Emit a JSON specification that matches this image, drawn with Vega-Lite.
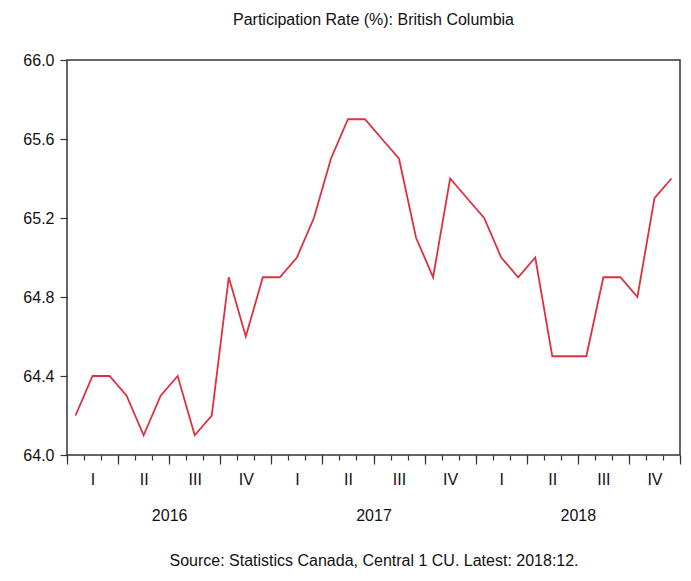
{
  "$schema": "https://vega.github.io/schema/vega-lite/v6.json",
  "width": 613,
  "height": 395,
  "padding": {"left": 22, "top": 12, "right": 5, "bottom": 5},
  "background": "white",
  "title": {
    "text": "Participation Rate (%): British Columbia",
    "font": "Liberation Sans",
    "fontSize": 16,
    "fontWeight": "normal",
    "color": "#111",
    "offset": 24
  },
  "data": {
    "values": [
      {"period": "2016:01", "index": 1, "rate": 64.2},
      {"period": "2016:02", "index": 2, "rate": 64.4},
      {"period": "2016:03", "index": 3, "rate": 64.4},
      {"period": "2016:04", "index": 4, "rate": 64.3},
      {"period": "2016:05", "index": 5, "rate": 64.1},
      {"period": "2016:06", "index": 6, "rate": 64.3},
      {"period": "2016:07", "index": 7, "rate": 64.4},
      {"period": "2016:08", "index": 8, "rate": 64.1},
      {"period": "2016:09", "index": 9, "rate": 64.2},
      {"period": "2016:10", "index": 10, "rate": 64.9},
      {"period": "2016:11", "index": 11, "rate": 64.6},
      {"period": "2016:12", "index": 12, "rate": 64.9},
      {"period": "2017:01", "index": 13, "rate": 64.9},
      {"period": "2017:02", "index": 14, "rate": 65.0},
      {"period": "2017:03", "index": 15, "rate": 65.2},
      {"period": "2017:04", "index": 16, "rate": 65.5},
      {"period": "2017:05", "index": 17, "rate": 65.7},
      {"period": "2017:06", "index": 18, "rate": 65.7},
      {"period": "2017:07", "index": 19, "rate": 65.6},
      {"period": "2017:08", "index": 20, "rate": 65.5},
      {"period": "2017:09", "index": 21, "rate": 65.1},
      {"period": "2017:10", "index": 22, "rate": 64.9},
      {"period": "2017:11", "index": 23, "rate": 65.4},
      {"period": "2017:12", "index": 24, "rate": 65.3},
      {"period": "2018:01", "index": 25, "rate": 65.2},
      {"period": "2018:02", "index": 26, "rate": 65.0},
      {"period": "2018:03", "index": 27, "rate": 64.9},
      {"period": "2018:04", "index": 28, "rate": 65.0},
      {"period": "2018:05", "index": 29, "rate": 64.5},
      {"period": "2018:06", "index": 30, "rate": 64.5},
      {"period": "2018:07", "index": 31, "rate": 64.5},
      {"period": "2018:08", "index": 32, "rate": 64.9},
      {"period": "2018:09", "index": 33, "rate": 64.9},
      {"period": "2018:10", "index": 34, "rate": 64.8},
      {"period": "2018:11", "index": 35, "rate": 65.3},
      {"period": "2018:12", "index": 36, "rate": 65.4}
    ]
  },
  "layer": [
    {
      "mark": {"type": "line", "color": "#e0303f", "strokeWidth": 1.8},
      "encoding": {
        "x": {
          "field": "index",
          "type": "quantitative",
          "scale": {"domain": [0.5, 36.5], "nice": false, "zero": false},
          "axis": {
            "orient": "bottom",
            "values": [0.5,1.5,2.5,3.5,4.5,5.5,6.5,7.5,8.5,9.5,10.5,11.5,12.5,13.5,14.5,15.5,16.5,17.5,18.5,19.5,20.5,21.5,22.5,23.5,24.5,25.5,26.5,27.5,28.5,29.5,30.5,31.5,32.5,33.5,34.5,35.5,36.5],
            "labels": false,
            "tickSize": 5,
            "domain": false,
            "grid": false,
            "title": null
          }
        },
        "y": {
          "field": "rate",
          "type": "quantitative",
          "scale": {"domain": [64, 66], "nice": false, "zero": false},
          "axis": {
            "values": [64.0, 64.4, 64.8, 65.2, 65.6, 66.0],
            "format": ".1f",
            "tickSize": 7,
            "labelPadding": 6,
            "domain": false,
            "grid": false,
            "title": null
          }
        }
      }
    },
    {
      "mark": {"type": "point", "opacity": 0},
      "encoding": {
        "x": {
          "field": "index",
          "type": "quantitative",
          "axis": {
            "orient": "bottom",
            "values": [0.5,3.5,6.5,9.5,12.5,15.5,18.5,21.5,24.5,27.5,30.5,33.5,36.5],
            "labels": false,
            "tickSize": 9,
            "domain": false,
            "grid": false,
            "title": null
          }
        }
      }
    },
    {
      "mark": {"type": "point", "opacity": 0},
      "encoding": {
        "x": {
          "field": "index",
          "type": "quantitative",
          "axis": {
            "orient": "bottom",
            "values": [2,5,8,11,14,17,20,23,26,29,32,35],
            "labelExpr": "['I','II','III','IV'][floor((datum.value - 0.5) / 3) % 4]",
            "ticks": false,
            "tickSize": 0,
            "labelPadding": 16,
            "domain": false,
            "grid": false,
            "title": null
          }
        }
      }
    },
    {
      "mark": {"type": "point", "opacity": 0},
      "encoding": {
        "x": {
          "field": "index",
          "type": "quantitative",
          "axis": {
            "orient": "bottom",
            "values": [6.5, 18.5, 30.5],
            "labelExpr": "'' + (2016 + floor(datum.value / 12))",
            "ticks": false,
            "tickSize": 0,
            "labelPadding": 52,
            "domain": false,
            "grid": false,
            "title": "Source: Statistics Canada, Central 1 CU. Latest: 2018:12.",
            "titlePadding": 29,
            "titleFontWeight": "normal",
            "titleFontSize": 16,
            "titleFont": "Liberation Sans",
            "titleColor": "#111"
          }
        }
      }
    }
  ],
  "resolve": {"axis": {"x": "independent"}},
  "config": {
    "view": {"stroke": "#333", "strokeWidth": 1.5},
    "axis": {
      "labelFont": "Liberation Sans",
      "labelFontSize": 16,
      "labelColor": "#111",
      "tickColor": "#333",
      "tickWidth": 1.2
    }
  }
}
